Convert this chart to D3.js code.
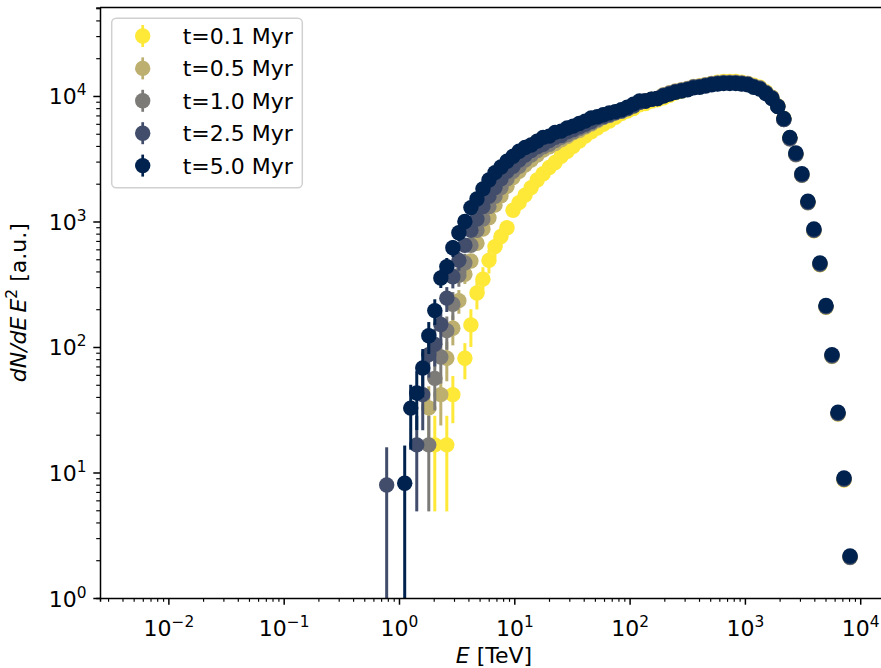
<!DOCTYPE html>
<html>
<head>
<meta charset="utf-8">
<script src="https://cdn.jsdelivr.net/npm/d3@7"></script>
<style>
  body { margin: 0; background: #fff; }
  svg { display: block; }
  text { font-family: "DejaVu Sans", sans-serif; fill: #000; }
</style>
</head>
<body>
<svg id="chart" width="881" height="668"></svg>
<script>
// Energy bin centres [TeV]
const energy = [0.782,0.882,0.994,1.121,1.264,1.426,1.607,1.813,2.044,2.305,
  2.599,2.932,3.306,3.728,4.204,4.742,5.346,6.029,6.799,7.667,
  8.645,9.75,11.0,12.4,14.0,15.8,17.8,20.1,22.6,25.5,
  28.8,32.4,36.6,41.2,46.5,52.4,59.1,66.7,75.2,84.8,
  95.6,108,122,137,155,174,197,222,250,282,
  318,359,405,456,514,580,654,738,832,938,
  1058,1193,1345,1517,1711,1929,2176,2454,2767,3120,
  3519,3968,4475,5047,5691,6418,7238,8163];

// E^2 dN/dE per age (null = empty bin)
const flux_t01 = [null,null,null,null,null,null,null,null,16.6,null,
  16.6,41.7,null,81.3,150,269,347,490,631,759,
  891,1230,1413,1622,1862,2138,2399,2692,2951,3311,
  3631,3981,4365,4786,5188,5559,5957,6310,6761,7244,
  7586,7943,8511,8710,9120,9333,9661,10120,10590,10960,
  11350,11750,12020,12300,12590,12880,13030,13030,13030,12880,
  12590,12160,11750,10840,9772,8318,6607,4624,3428,2344,
  1413,841,452,207,84.1,29.2,8.71,2.11];
const flux_t05 = [null,null,null,null,null,null,null,32.7,null,41.7,
  81.3,141,234,380,484,670,871,1072,1349,1600,
  1905,2239,2512,2818,3090,3388,3715,3936,4169,4467,
  4742,5093,5309,5649,5970,6339,6745,6998,7328,7551,
  7907,8414,8913,9120,9441,9550,10250,10610,10990,11230,
  11500,11900,12040,12320,12610,12760,12900,12900,12900,12760,
  12610,12040,11630,10730,9790,8300,6510,4610,3460,2360,
  1430,858,461,211,85.7,29.7,8.9,2.13];
const flux_t10 = [null,null,null,null,null,null,null,16.6,56.2,83.2,
  135,219,372,468,646,851,1047,1318,1585,1862,
  2188,2512,2754,3090,3388,3673,3936,4121,4416,4677,
  4898,5176,5495,5754,6081,6457,6761,7031,7328,7551,
  7907,8414,8913,9120,9397,9550,10150,10500,10880,11120,
  11390,11780,11930,12200,12480,12640,12780,12780,12780,12640,
  12480,11930,11520,10630,9690,8220,6480,4540,3400,2330,
  1410,845,454,208,84.4,29.3,8.77,2.10];
const flux_t25 = [7.94,null,null,null,null,16.6,41.7,87,105,151,
  245,363,490,646,851,1047,1318,1585,1862,2188,
  2512,2754,3090,3388,3673,3936,4121,4416,4677,4842,
  5176,5395,5675,5943,6252,6683,6855,7129,7379,7603,
  7943,8318,8913,9120,9397,9550,10100,10450,10830,11070,
  11330,11730,11870,12140,12420,12570,12720,12720,12720,12570,
  12420,11870,11460,10570,9650,8300,6480,4590,3440,2350,
  1420,853,459,210,85.3,29.6,8.86,2.12];
const flux_t50 = [null,null,null,8.2,32.6,43,68,123,195,355,
  437,617,813,1000,1290,1510,1820,2140,2450,2720,
  3020,3310,3630,3890,4070,4370,4680,4790,5130,5250,
  5560,5750,6030,6310,6680,6840,7080,7330,7500,7760,
  8130,8610,9120,9120,9440,9550,10000,10350,10720,10960,
  11220,11610,11750,12020,12300,12450,12590,12590,12590,12450,
  12300,11750,11350,10470,9550,8220,6610,4680,3510,2400,
  1450,871,468,214,87,30.2,9.04,2.16];

// 1-sigma uncertainties on the low-count bins (remaining bins: bars hidden by markers)
const err_t01 = [0,0,0,0,0,0,0,0,11.7,0,11.7,17,0,26,50,70,85,105,125,140];
const err_t05 = [0,0,0,0,0,0,0,16,0,18,28,38,50,62];
const err_t10 = [0,0,0,0,0,0,0,11.7,25,32,40,55,70,85];
const err_t25 = [7.94,0,0,0,0,11.7,20,30,35,45,55,70,85];
const err_t50 = [0,0,0,8.2,17.4,21.2,28.3,35,45,60,75,95,115,135];

const seriesLabels = ["t=0.1 Myr", "t=0.5 Myr", "t=1.0 Myr", "t=2.5 Myr", "t=5.0 Myr"];
const seriesFlux = [flux_t01, flux_t05, flux_t10, flux_t25, flux_t50];
const seriesErr = [err_t01, err_t05, err_t10, err_t25, err_t50];
const seriesColors = ["#fee838", "#bcaf6f", "#7c7b78", "#414d6b", "#00224e"];

const xTickExps = [-2, -1, 0, 1, 2, 3, 4];
const yTickExps = [0, 1, 2, 3, 4];
const xLabel = "[TeV]";
const yLabelTail = "[a.u.]";

// ---------------------------------------------------------------------------
const svg = d3.select("#chart");
const W = 881, H = 668;
const plot = { left: 100, right: 888, top: 7.5, bottom: 598 };
const FS = 22, SUP = 15.4;
const majorLen = 6.7, minorLen = 3.8;

const x = d3.scaleLog().domain([Math.pow(10, -2.593), Math.pow(10, 4.241)]).range([plot.left, plot.right]);
const y = d3.scaleLog().domain([1, Math.pow(10, 4.705)]).range([plot.bottom, plot.top]);

svg.append("defs").append("clipPath").attr("id", "plotclip")
  .append("rect")
  .attr("x", plot.left).attr("y", plot.top)
  .attr("width", plot.right - plot.left).attr("height", plot.bottom - plot.top);

// data layers: each age draws its error bars, then its markers
const dataLayer = svg.append("g").attr("clip-path", "url(#plotclip)");
seriesFlux.forEach((vals, si) => {
  const pts = energy.map((e, i) => ({ e, v: vals[i], s: seriesErr[si][i] || 0 }))
    .filter(d => d.v != null);
  const g = dataLayer.append("g");
  g.selectAll("line").data(pts.filter(d => d.s > 0)).join("line")
    .attr("x1", d => x(d.e)).attr("x2", d => x(d.e))
    .attr("y1", d => y(d.v + d.s))
    .attr("y2", d => (d.v - d.s) > 0 ? y(d.v - d.s) : H + 20)
    .attr("stroke", seriesColors[si]).attr("stroke-width", 3);
  g.selectAll("circle").data(pts).join("circle")
    .attr("cx", d => x(d.e)).attr("cy", d => y(d.v)).attr("r", 7.7)
    .attr("fill", seriesColors[si]);
});

// tick helpers
function minorTicks(scale, lo, hi) {
  const out = [];
  const [d0, d1] = scale.domain();
  for (let p = lo; p <= hi; p++) {
    for (let m = 2; m <= 9; m++) {
      const v = m * Math.pow(10, p);
      if (v >= d0 && v <= d1) out.push(v);
    }
  }
  return out;
}
function powerLabel(textSel, exp) {
  textSel.append("tspan").text("10");
  textSel.append("tspan").attr("dy", -9).attr("font-size", SUP)
    .text(exp < 0 ? "\u2212" + (-exp) : String(exp));
}

// x axis
const xMajor = xTickExps.map(p => Math.pow(10, p));
const xAxisG = svg.append("g").attr("transform", `translate(0,${plot.bottom})`);
xAxisG.call(d3.axisBottom(x).tickValues(minorTicks(x, -3, 4)).tickSize(minorLen).tickFormat(() => ""))
  .call(g => g.selectAll(".tick line").attr("stroke-width", 1.15));
xAxisG.append("g")
  .call(d3.axisBottom(x).tickValues(xMajor).tickSize(majorLen).tickFormat(() => ""))
  .call(g => g.select(".domain").remove())
  .call(g => g.selectAll(".tick line").attr("stroke-width", 1.5))
  .call(g => g.selectAll(".tick").each(function (d, i) {
    const t = d3.select(this).append("text")
      .attr("y", 38).attr("text-anchor", "middle")
      .attr("font-size", FS).attr("fill", "#000");
    powerLabel(t, xTickExps[i]);
  }));
xAxisG.select(".domain").attr("stroke-width", 1.5);

// y axis
const yMajor = yTickExps.map(p => Math.pow(10, p));
const yAxisG = svg.append("g").attr("transform", `translate(${plot.left},0)`);
yAxisG.call(d3.axisLeft(y).tickValues(minorTicks(y, 0, 4)).tickSize(minorLen).tickFormat(() => ""))
  .call(g => g.selectAll(".tick line").attr("stroke-width", 1.15));
yAxisG.append("g")
  .call(d3.axisLeft(y).tickValues(yMajor).tickSize(majorLen).tickFormat(() => ""))
  .call(g => g.select(".domain").remove())
  .call(g => g.selectAll(".tick line").attr("stroke-width", 1.5))
  .call(g => g.selectAll(".tick").each(function (d, i) {
    const t = d3.select(this).append("text")
      .attr("x", -13.4).attr("y", 8).attr("text-anchor", "end")
      .attr("font-size", FS).attr("fill", "#000");
    powerLabel(t, yTickExps[i]);
  }));
yAxisG.select(".domain").attr("stroke-width", 1.5);

// top spine
svg.append("line")
  .attr("x1", plot.left).attr("x2", plot.right)
  .attr("y1", plot.top).attr("y2", plot.top)
  .attr("stroke", "#000").attr("stroke-width", 1.5);

// axis titles
const xt = svg.append("text")
  .attr("x", (plot.left + plot.right) / 2).attr("y", 663)
  .attr("text-anchor", "middle").attr("font-size", FS);
xt.append("tspan").attr("font-style", "italic").text("E");
xt.append("tspan").text(" " + xLabel);

const yt = svg.append("text")
  .attr("transform", `translate(26,${(plot.top + plot.bottom) / 2}) rotate(-90)`)
  .attr("text-anchor", "middle").attr("font-size", FS);
yt.append("tspan").attr("font-style", "italic").text("dN/dE");
yt.append("tspan").attr("font-style", "italic").attr("dx", 4).text("E");
yt.append("tspan").attr("dy", -9).attr("font-size", SUP).text("2");
yt.append("tspan").attr("dy", 9).text(" " + yLabelTail);

// legend
const leg = svg.append("g");
leg.append("rect")
  .attr("x", 111.7).attr("y", 18.3).attr("width", 190.6).attr("height", 169.4)
  .attr("rx", 4.5).attr("fill", "#fff").attr("fill-opacity", 0.8)
  .attr("stroke", "#d0d0d0").attr("stroke-width", 1.5);
seriesLabels.forEach((lab, i) => {
  const cy = 36 + i * 32.4;
  leg.append("line").attr("x1", 142.7).attr("x2", 142.7)
    .attr("y1", cy - 11).attr("y2", cy + 11)
    .attr("stroke", seriesColors[i]).attr("stroke-width", 2.7);
  leg.append("circle").attr("cx", 142.7).attr("cy", cy).attr("r", 7.7)
    .attr("fill", seriesColors[i]);
  leg.append("text").attr("x", 182.7).attr("y", cy + 8)
    .attr("font-size", FS).text(lab);
});
</script>
</body>
</html>
